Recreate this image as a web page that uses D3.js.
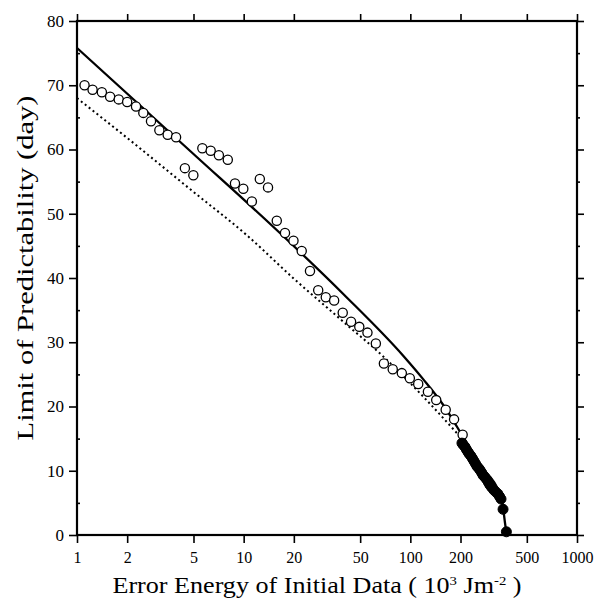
<!DOCTYPE html>
<html>
<head>
<meta charset="utf-8">
<script src="https://cdn.jsdelivr.net/npm/d3@7"></script>
<style>
  body { margin: 0; background: #fff; }
  svg text { font-family: "Liberation Serif", "DejaVu Serif", serif; fill: #000; }
</style>
</head>
<body>
<div class="chart-container"></div>
<script>
// open circles
var openX = [1.11, 1.24, 1.41, 1.58, 1.78, 2.0, 2.26, 2.5, 2.78, 3.12, 3.5, 3.93, 4.44, 4.99, 5.65, 6.34, 7.1, 8.03, 8.87, 9.95,
             11.2, 12.5, 14.0, 15.8, 17.7, 19.9, 22.3, 25.0, 28.0, 31.1, 34.9, 39.3, 44.1, 49.4, 55.3, 62.1, 69.4, 78.4, 88.9, 99.3,
             111.5, 127.5, 143, 163, 183, 206];
var openY = [70.0, 69.3, 68.9, 68.2, 67.8, 67.4, 66.7, 65.7, 64.4, 63.0, 62.3, 61.9, 57.1, 56.0, 60.2, 59.8, 59.1, 58.4, 54.7, 53.9,
             51.9, 55.4, 54.1, 48.9, 47.0, 45.8, 44.2, 41.1, 38.1, 37.0, 36.5, 34.6, 33.2, 32.4, 31.5, 29.8, 26.7, 25.8, 25.2, 24.4,
             23.5, 22.3, 21.0, 19.5, 18.0, 15.6];
// filled circles
var filledX = [204, 208, 213, 217, 222, 226, 231, 236, 241, 246, 251, 257, 262, 268, 273, 280, 288, 294, 300, 308, 317, 326, 335, 343, 350, 360, 377];
var filledY = [14.3, 14.0, 13.7, 13.3, 12.9, 12.6, 12.3, 11.9, 11.5, 11.1, 10.7, 10.4, 10.1, 9.7, 9.3, 9.0, 8.6, 8.2, 7.8, 7.4, 7.0, 6.7, 6.4, 6.0, 5.6, 4.0, 0.5];
// solid curve
var solidX = [1, 5, 16.5, 40, 90.6, 119, 160, 207, 260, 354, 377, 388];
var solidY = [75.8, 59.3, 47.0, 37.4, 27.9, 24.3, 20.0, 15.3, 11.1, 5.4, 0.6, 0];
// dotted curve
var dotX = [1, 2, 5, 10.4, 20, 40, 69, 125, 199];
var dotY = [68.0, 61.8, 53.4, 46.7, 39.9, 33.1, 27.75, 21.0, 15.3];

var xTicks = [1, 2, 5, 10, 20, 50, 100, 200, 500, 1000];
var yTicks = [0, 10, 20, 30, 40, 50, 60, 70, 80];
var yMinor = [5, 15, 25, 35, 45, 55, 65, 75];

var W = 598, H = 598;
var pLeft = 77, pRight = 577, pTop = 21, pBottom = 535;

var x = d3.scaleLog().domain([1, 1000]).range([pLeft, pRight]);
var y = d3.scaleLinear().domain([0, 80]).range([pBottom, pTop]);

var svg = d3.select(".chart-container").append("svg")
    .attr("width", W)
    .attr("height", H);

// axes
var xAxis = d3.axisBottom(x).tickValues(xTicks).tickSize(8).tickPadding(9).tickFormat(d3.format("d"));
var xAxisTop = d3.axisTop(x).tickValues(xTicks).tickSize(7).tickFormat("");
var yAxis = d3.axisLeft(y).tickValues(yTicks).tickSize(8).tickPadding(5).tickFormat(d3.format("d"));
var yMinorIn = d3.axisRight(y).tickValues(yMinor).tickSize(3).tickFormat("");
var yAxisRight = d3.axisRight(y).tickValues(yTicks).tickSize(7).tickFormat("");
var yMinorRight = d3.axisRight(y).tickValues(yMinor).tickSize(3).tickFormat("");

function styleAxis(g, size) {
    g.select(".domain").remove();
    g.selectAll(".tick line").attr("stroke", "#000").attr("stroke-width", 1.6);
    g.selectAll(".tick text").attr("font-size", size).attr("font-family", "Liberation Serif");
}

svg.append("g").attr("transform", "translate(0," + pBottom + ")").call(xAxis).call(styleAxis, 16);
svg.append("g").attr("transform", "translate(0," + pTop + ")").call(xAxisTop).call(styleAxis, 16);
svg.append("g").attr("transform", "translate(" + pLeft + ",0)").call(yAxis).call(styleAxis, 17);
svg.append("g").attr("transform", "translate(" + pLeft + ",0)").call(yMinorIn).call(styleAxis, 17);
svg.append("g").attr("transform", "translate(" + pRight + ",0)").call(yAxisRight).call(styleAxis, 17);
svg.append("g").attr("transform", "translate(" + pRight + ",0)").call(yMinorRight).call(styleAxis, 17);

// frame
svg.append("rect")
    .attr("x", pLeft).attr("y", pTop)
    .attr("width", pRight - pLeft).attr("height", pBottom - pTop)
    .attr("fill", "none").attr("stroke", "#000").attr("stroke-width", 2.2);

// lines
var lineGen = d3.line()
    .x(function(d) { return x(d[0]); })
    .y(function(d) { return y(d[1]); })
    .curve(d3.curveMonotoneX);

svg.append("path")
    .datum(dotX.map(function(v, i) { return [v, dotY[i]]; }))
    .attr("d", lineGen)
    .attr("fill", "none").attr("stroke", "#000")
    .attr("stroke-width", 2).attr("stroke-dasharray", "2,3");

svg.append("path")
    .datum(solidX.map(function(v, i) { return [v, solidY[i]]; }))
    .attr("d", lineGen)
    .attr("fill", "none").attr("stroke", "#000")
    .attr("stroke-width", 2.3);

// points
svg.append("g").selectAll("circle")
    .data(openX.map(function(v, i) { return [v, openY[i]]; }))
    .enter().append("circle")
    .attr("cx", function(d) { return x(d[0]); })
    .attr("cy", function(d) { return y(d[1]); })
    .attr("r", 4.6)
    .attr("fill", "#fff").attr("stroke", "#000").attr("stroke-width", 1.3);

svg.append("g").selectAll("circle")
    .data(filledX.map(function(v, i) { return [v, filledY[i]]; }))
    .enter().append("circle")
    .attr("cx", function(d) { return x(d[0]); })
    .attr("cy", function(d) { return y(d[1]); })
    .attr("r", 5)
    .attr("fill", "#000").attr("stroke", "#000").attr("stroke-width", 1);

// axis titles
var xt = svg.append("text")
    .attr("x", 317).attr("y", 593)
    .attr("text-anchor", "middle")
    .attr("font-size", 23)
    .attr("textLength", 409)
    .attr("lengthAdjust", "spacingAndGlyphs");
xt.append("tspan").text("Error Energy of Initial Data ( 10");
xt.append("tspan").attr("font-size", 13).attr("dy", -8).text("3");
xt.append("tspan").attr("dy", 8).text(" Jm");
xt.append("tspan").attr("font-size", 13).attr("dy", -8).text("-2");
xt.append("tspan").attr("dy", 8).text(" )");

svg.append("text")
    .attr("transform", "translate(33,268) rotate(-90)")
    .attr("text-anchor", "middle")
    .attr("font-size", 23)
    .attr("textLength", 345)
    .attr("lengthAdjust", "spacingAndGlyphs")
    .text("Limit of Predictability (day)");
</script>
</body>
</html>
